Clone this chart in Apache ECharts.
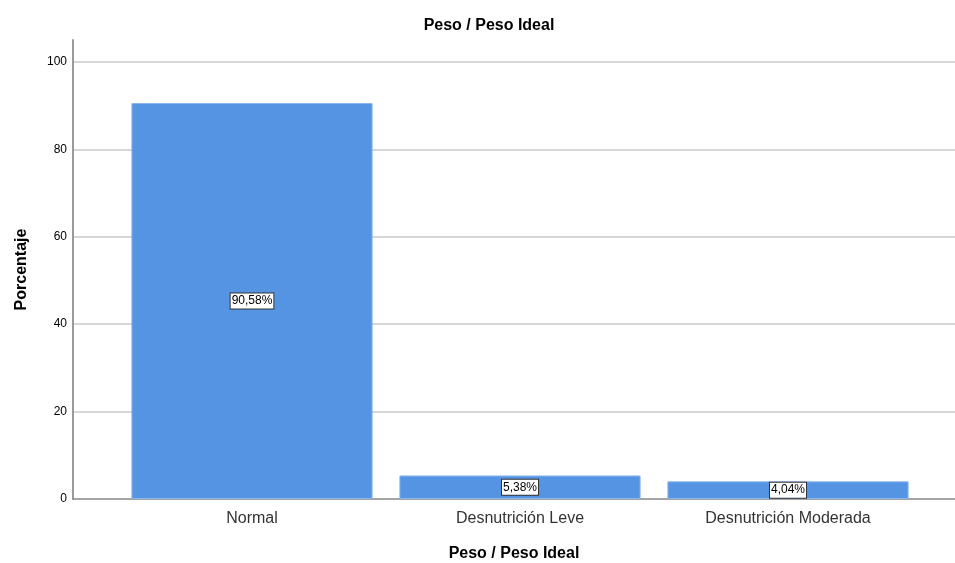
<!DOCTYPE html>
<html><head><meta charset="utf-8">
<script src="https://cdn.jsdelivr.net/npm/echarts@6/dist/echarts.min.js"></script>
<style>html,body{margin:0;padding:0;background:#fff}#c{width:955px;height:563px}</style>
</head><body><div id="c"></div>
<script>
const categories = ['Normal', 'Desnutrición Leve', 'Desnutrición Moderada'];
const values = [90.58, 5.38, 4.04];
const yTicks = [0, 20, 40, 60, 80, 100];
const titleText = 'Peso / Peso Ideal';
const xName = 'Peso / Peso Ideal';
const yName = 'Porcentaje';

const F = 'Liberation Sans, Arial, sans-serif';
const chart = echarts.init(document.getElementById('c'));
chart.setOption({
  animation: false,
  title: { text: titleText, left: 484, textAlign: 'center', top: 13,
    textStyle: { fontFamily: F, fontSize: 16, fontWeight: 'bold', color: '#000' } },
  grid: [
    { left: 73, right: 0, top: 40, bottom: 64, outerBoundsMode: 'none', containLabel: false },
    { left: 118, width: 804, top: 40, bottom: 64, outerBoundsMode: 'none', containLabel: false }
  ],
  xAxis: [
    { gridIndex: 0, type: 'category', data: [''], axisTick: { show: false }, axisLabel: { show: false },
      axisLine: { lineStyle: { color: '#888', width: 1.5 } },
      name: xName, nameLocation: 'middle', nameGap: 47,
      nameTextStyle: { fontFamily: F, fontSize: 16, fontWeight: 'bold', color: '#000' } },
    { gridIndex: 1, type: 'category', data: categories, axisTick: { show: false },
      axisLine: { show: false },
      axisLabel: { fontFamily: F, fontSize: 16, color: '#333', margin: 12 } }
  ],
  yAxis: [
    { gridIndex: 0, type: 'value', min: 0, max: 105, interval: 20,
      axisLine: { show: true, lineStyle: { color: '#999', width: 2 } },
      axisTick: { show: false },
      axisLabel: { fontFamily: F, fontSize: 12, color: '#000', margin: 6, showMaxLabel: false,
        formatter: v => yTicks.includes(v) ? String(v) : '' },
      splitLine: { show: true, showMaxLine: false, showMinLine: false, lineStyle: { color: '#d6d6d6', width: 2 } },
      name: yName, nameLocation: 'middle', nameGap: 43, nameRotate: 90,
      nameTextStyle: { fontFamily: F, fontSize: 16, fontWeight: 'bold', color: '#000' } },
    { gridIndex: 1, type: 'value', min: 0, max: 105, show: false, splitLine: { show: false } }
  ],
  series: [{
    type: 'bar', xAxisIndex: 1, yAxisIndex: 1, data: values, barWidth: '90%',
    itemStyle: { color: '#5594e2', borderColor: '#8ab6ee', borderWidth: 1 },
    label: { show: true, position: 'inside', fontFamily: F, fontSize: 12, color: '#000',
      backgroundColor: '#fff', borderColor: '#333', borderWidth: 1, padding: [2, 1, 1, 1],
      formatter: p => p.value.toFixed(2).replace('.', ',') + '%' }
  }]
});
</script></body></html>
